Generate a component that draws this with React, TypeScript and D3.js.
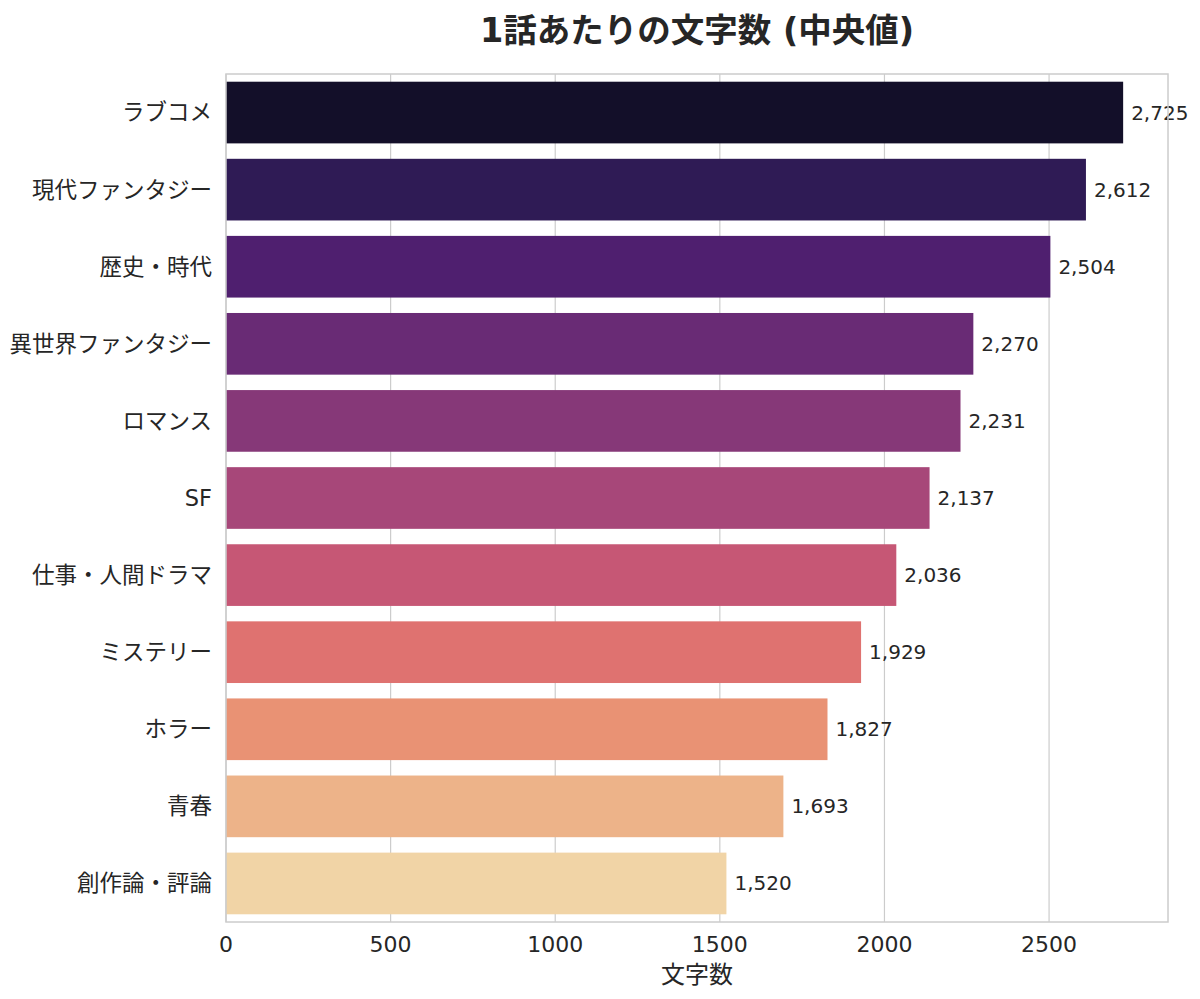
import React, { useEffect, useRef } from 'react';
import * as d3 from 'd3';

const categories = [
  'ラブコメ',
  '現代ファンタジー',
  '歴史・時代',
  '異世界ファンタジー',
  'ロマンス',
  'SF',
  '仕事・人間ドラマ',
  'ミステリー',
  'ホラー',
  '青春',
  '創作論・評論',
];
const values = [2725, 2612, 2504, 2270, 2231, 2137, 2036, 1929, 1827, 1693, 1520];
const xTicks = [0, 500, 1000, 1500, 2000, 2500];

const FONT = '"DejaVu Sans", "Noto Sans CJK JP", sans-serif';
const TEXT = '#262626';

// seaborn-like palette: magma sampled inside (0,1), then desaturated by 0.75
function palette(n: number) {
  return d3.range(n).map(i => {
    const c = d3.hsl(d3.interpolateMagma((i + 1) / (n + 1)));
    c.s *= 0.75;
    return c.formatHex();
  });
}

export default function App() {
  const svgRef = useRef<SVGSVGElement>(null);

  useEffect(() => {
    document.body.style.margin = '0';
    if (!svgRef.current) return;
    const width = 1200;
    const height = 999;
    const margin = { top: 74, right: 32, bottom: 77, left: 226 };

    const svg = d3.select(svgRef.current);
    svg.selectAll('*').remove();
    svg.attr('width', width).attr('height', height);

    const x = d3.scaleLinear()
      .domain([0, d3.max(values)! * 1.05])
      .range([margin.left, width - margin.right]);

    const y = d3.scaleBand<string>()
      .domain(categories)
      .range([margin.top, height - margin.bottom])
      .paddingInner(0.2)
      .paddingOuter(0.1);

    const colors = palette(categories.length);

    // grid
    svg.append('g')
      .selectAll('line')
      .data(xTicks)
      .join('line')
      .attr('x1', d => x(d)).attr('x2', d => x(d))
      .attr('y1', margin.top).attr('y2', height - margin.bottom)
      .attr('stroke', '#cccccc').attr('stroke-width', 1.2);

    // bars
    svg.append('g')
      .selectAll('rect')
      .data(values)
      .join('rect')
      .attr('x', x(0))
      .attr('y', (_, i) => y(categories[i])!)
      .attr('width', d => x(d) - x(0))
      .attr('height', y.bandwidth())
      .attr('fill', (_, i) => colors[i]);

    // value labels
    svg.append('g')
      .selectAll('text')
      .data(values)
      .join('text')
      .attr('x', d => x(d) + 8)
      .attr('y', (_, i) => y(categories[i])! + y.bandwidth() / 2)
      .attr('dy', '0.35em')
      .attr('font-family', FONT).attr('font-size', 20).attr('fill', TEXT)
      .text(d => d3.format(',')(d));

    // frame
    svg.append('rect')
      .attr('x', margin.left).attr('y', margin.top)
      .attr('width', width - margin.right - margin.left)
      .attr('height', height - margin.bottom - margin.top)
      .attr('fill', 'none').attr('stroke', '#cccccc').attr('stroke-width', 1.5);

    // y labels
    svg.append('g')
      .selectAll('text')
      .data(categories)
      .join('text')
      .attr('x', margin.left - 14)
      .attr('y', d => y(d)! + y.bandwidth() / 2)
      .attr('dy', '0.35em')
      .attr('text-anchor', 'end')
      .attr('font-family', FONT).attr('font-size', 22.5).attr('fill', TEXT)
      .text(d => d);

    // x tick labels
    svg.append('g')
      .selectAll('text')
      .data(xTicks)
      .join('text')
      .attr('x', d => x(d))
      .attr('y', height - margin.bottom + 22)
      .attr('dy', '0.36em')
      .attr('text-anchor', 'middle')
      .attr('font-family', FONT).attr('font-size', 22).attr('fill', TEXT)
      .text(d => String(d));

    svg.append('text')
      .attr('x', (margin.left + width - margin.right) / 2)
      .attr('y', height - 16)
      .attr('text-anchor', 'middle')
      .attr('font-family', FONT).attr('font-size', 24).attr('fill', TEXT)
      .text('文字数');

    svg.append('text')
      .attr('x', (margin.left + width - margin.right) / 2)
      .attr('y', 42)
      .attr('text-anchor', 'middle')
      .attr('font-family', FONT).attr('font-size', 33.5).attr('font-weight', 'bold').attr('fill', TEXT)
      .text('1話あたりの文字数 (中央値)');
  }, []);

  return <svg ref={svgRef} style={{ display: 'block' }} />;
}
